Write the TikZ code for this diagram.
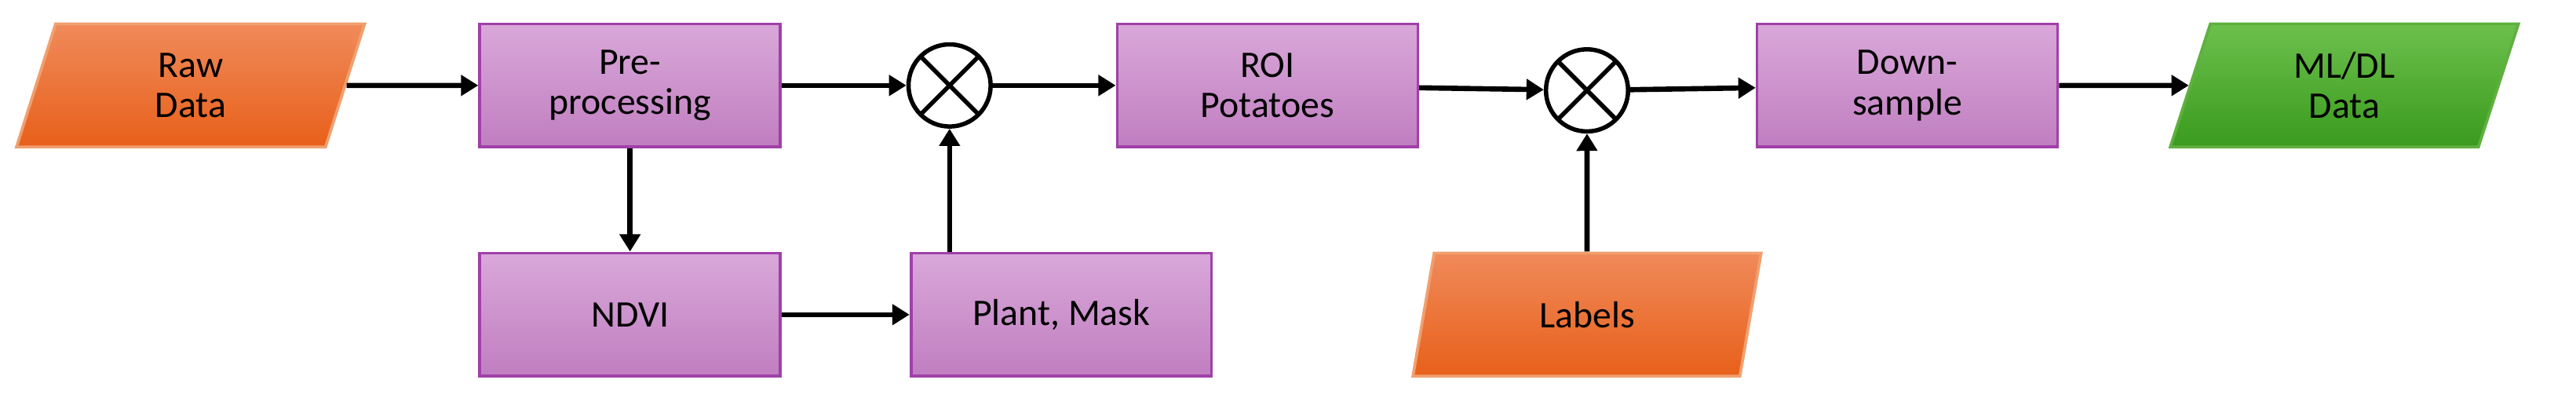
\documentclass[tikz,border=0pt]{standalone}
\usepackage{fontspec}
\setmainfont{Carlito}
\usetikzlibrary{shapes.geometric,arrows.meta}
\definecolor{boxtop}{HTML}{D9A8D9}
\definecolor{boxbot}{HTML}{C07EC0}
\definecolor{boxline}{HTML}{A040A8}
\definecolor{ortop}{HTML}{F08A5A}
\definecolor{orbot}{HTML}{E8601A}
\definecolor{orline}{HTML}{F0A070}
\definecolor{grtop}{HTML}{6CC04C}
\definecolor{grbot}{HTML}{3A9A1E}
\definecolor{grline}{HTML}{60B040}
\tikzset{
  proc/.style={draw=boxline, line width=1pt, top color=boxtop, bottom color=boxbot,
    minimum width=3.66cm, minimum height=1.5cm, align=center, font=\fontsize{13}{14}\selectfont},
  io/.style={trapezium, trapezium left angle=65, trapezium right angle=115, trapezium stretches body,
    line width=1pt, minimum width=4.24cm, minimum height=1.5cm, align=center, font=\fontsize{13}{14}\selectfont},
  inorange/.style={io, draw=orline, top color=ortop, bottom color=orbot},
  outgreen/.style={io, draw=grline, top color=grtop, bottom color=grbot},
  mult/.style={circle, draw, line width=1.5pt, fill=white, minimum size=1cm, inner sep=0pt,
    path picture={\draw[line width=1.5pt] (path picture bounding box.north west) -- (path picture bounding box.south east)
      (path picture bounding box.south west) -- (path picture bounding box.north east);}},
  flow/.style={-{Triangle[length=6pt,width=7pt]}, line width=1.8pt}
}
\begin{document}
\begin{tikzpicture}[x=0.02cm, y=-0.02cm]
    \useasboundingbox (0,0) rectangle (1568,242);
    % top row
    \node[inorange] (raw) at (116,52) {Raw\\Data};
    \node[proc] (prep) at (383.5,52) {Pre-\\processing};
    \node[mult] (mulA) at (578,52) {};
    \node[proc] (roi) at (771.5,52) {ROI\\Potatoes};
    \node[mult] (mulB) at (966,55) {};
    \node[proc] (down) at (1161,52) {Down-\\sample};
    \node[outgreen] (mldl) at (1427,52) {ML/DL\\Data};
    % bottom row
    \node[proc] (ndvi) at (383.5,191.5) {NDVI};
    \node[proc] (mask) at (646,191.5) {Plant, Mask};
    \node[inorange] (lbl) at (966,191.5) {Labels};

    \draw[flow] (raw) -- (prep);
    \draw[flow] (prep) -- (mulA);
    \draw[flow] (mulA) -- (roi);
    \draw[flow] (prep) -- (ndvi);
    \draw[flow] (ndvi) -- (mask);
    \draw[flow] (mask.north -| mulA) -- (mulA);
    \draw[flow] (roi) -- (mulB);
    \draw[flow] (lbl) -- (mulB);
    \draw[flow] (mulB) -- (down);
    \draw[flow] (down) -- (mldl);
\end{tikzpicture}
\end{document}
